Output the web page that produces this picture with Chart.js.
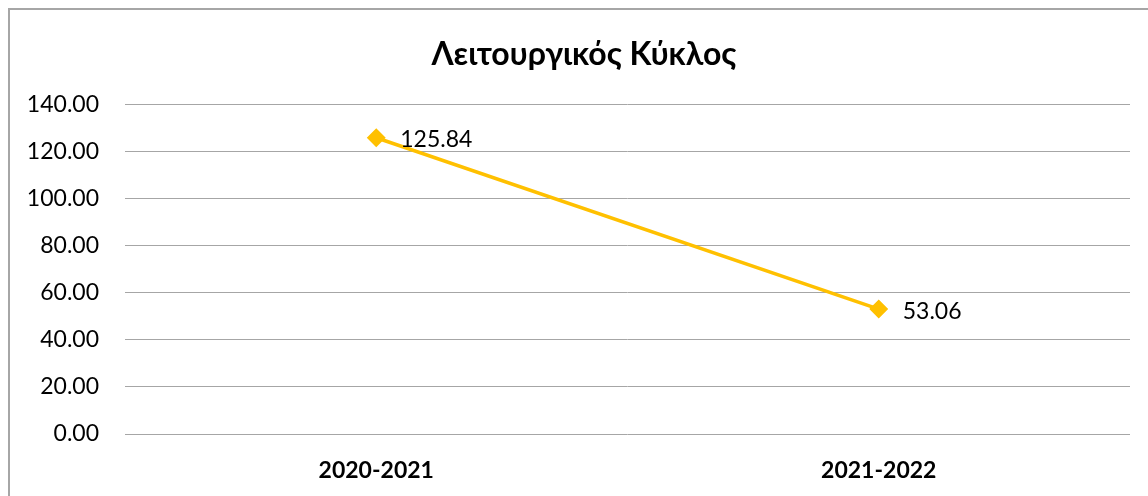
<!doctype html>
<html>
<head>
	<meta charset="utf-8">
	<title>Λειτουργικός Κύκλος</title>
	<script src="https://cdn.jsdelivr.net/npm/chart.js@4/dist/chart.umd.min.js"></script>
	<style>
		html, body {
			margin: 0;
			padding: 0;
			background: #fff;
			overflow: hidden;
		}
		.frame {
			position: absolute;
			left: 8px;
			top: 8px;
			width: 1200px;
			height: 600px;
			border: 2px solid #a6a6a6;
		}
		.wrap {
			position: absolute;
			left: 0;
			top: 0;
			width: 1148px;
			height: 496px;
		}
	</style>
</head>
<body>
	<div class="frame"></div>
	<div class="wrap">
		<canvas id="cycle" width="1148" height="496"></canvas>
	</div>
	<script>
		var periods = ["2020-2021", "2021-2022"];
		var cycleValues = [125.84, 53.06];
		var yMin = 0, yMax = 140, yStep = 20;

		var fontName = "Lato, 'Open Sans', sans-serif";

		// value labels to the right of each point
		var pointLabels = {
			id: "pointLabels",
			afterLayout: function (chart) {
				// nudge the title so it sits centred in the outer frame
				if (chart.titleBlock) chart.titleBlock.left += 38;
			},
			afterDatasetsDraw: function (chart) {
				var ctx = chart.ctx;
				var meta = chart.getDatasetMeta(0);
				ctx.save();
				ctx.font = "23px " + fontName;
				ctx.fillStyle = "#000";
				ctx.textAlign = "left";
				ctx.textBaseline = "middle";
				meta.data.forEach(function (pt, i) {
					ctx.fillText(cycleValues[i].toFixed(2), pt.x + 24, pt.y + 2);
				});
				ctx.restore();
			}
		};

		new Chart("cycle", {
			type: "line",
			data: {
				labels: periods,
				datasets: [{
					label: "Λειτουργικός Κύκλος",
					data: cycleValues,
					borderColor: "#FFC000",
					backgroundColor: "#FFC000",
					borderWidth: 3.5,
					pointStyle: "rectRot",
					pointRadius: 7,
					pointHoverRadius: 7,
					tension: 0
				}]
			},
			plugins: [pointLabels],
			options: {
				responsive: false,
				animation: false,
				layout: {
					padding: { left: 0, right: 18, top: 0, bottom: 0 }
				},
				plugins: {
					legend: { display: false },
					tooltip: { enabled: false },
					title: {
						display: true,
						text: "Λειτουργικός Κύκλος",
						color: "#000",
						font: { family: fontName, size: 32, weight: "bold" },
						padding: { top: 35, bottom: 31 }
					}
				},
				scales: {
					x: {
						offset: true,
						grid: { display: false, drawTicks: false },
						border: { display: false },
						ticks: {
							color: "#000",
							padding: 23,
							font: { family: fontName, size: 23, weight: "bold" }
						},
						afterFit: function (s) { s.height = 62; }
					},
					y: {
						min: yMin,
						max: yMax,
						grid: { color: "#a6a6a6", lineWidth: 1, drawTicks: false },
						border: { display: false },
						ticks: {
							stepSize: yStep,
							color: "#000",
							padding: 26,
							font: { family: fontName, size: 23 },
							callback: function (v) { return v.toFixed(2); }
						},
						afterFit: function (s) { s.width = 125; }
					}
				}
			}
		});
	</script>
</body>
</html>
